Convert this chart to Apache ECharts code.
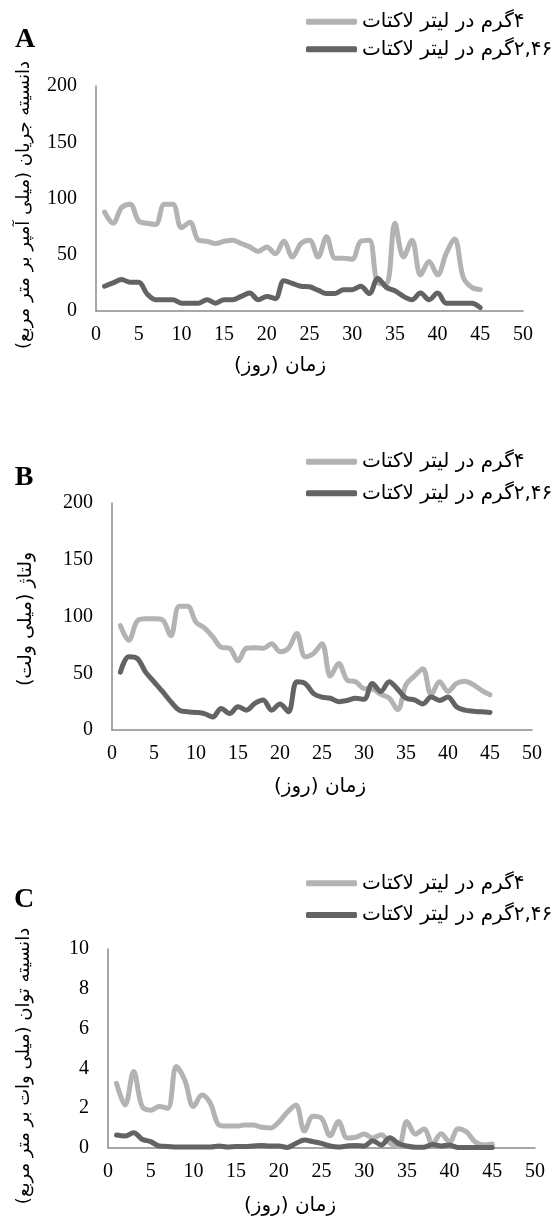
<!DOCTYPE html>
<html>
<head>
<meta charset="utf-8">
<script src="https://cdn.jsdelivr.net/npm/echarts@6/dist/echarts.min.js"></script>
<style>
html,body{margin:0;padding:0;background:#fff;}
#chart{width:559px;height:1216px;}
</style>
</head>
<body>
<div id="chart"></div>
<script>
// ---- data ----
const days = [1,2,3,4,5,6,7,8,9,10,11,12,13,14,15,16,17,18,19,20,21,22,23,24,25,26,27,28,29,30,31,32,33,34,35,36,37,38,39,40,41,42,43,44,45];
const seriesNames = ['\u200F۴گرم در لیتر لاکتات', '\u200F۲,۴۶گرم در لیتر لاکتات'];
// A: current density (mA/m2)
const currentA_4 = [88,78,92,95,80,78,77,95,95,74,79,63,62,60,62,63,60,57,53,57,51,62,48,60,63,48,66,47,47,46,62,63,25,24,78,48,63,32,44,32,51,64,30,21,19];
const currentA_246 = [22,25,28,25.5,25.5,15,10,10,10,7,7,7,10,7,10,10,13,16,10,13,11,27,24.5,22,21.5,18.5,15.5,15.5,19,19,22,15.5,29,21,18,13,10,16,10,16,7,7,7,7,3];
// B: voltage (mV)
const voltageB_4 = [92,79,96,98,98,97,83,109,109,95,90,82,73,72,61,72,72.5,72,76,69,72,85,64.5,67.5,76,47.5,58.5,44,42.5,36.5,36,31.5,28,18,40,47.5,54,31,42.5,34,41,43,40,35,31];
const voltageB_246 = [51,64.5,63,51,42.5,34,25,17.5,16,15.5,14.5,11.5,19,14.5,20.5,17.5,23.5,26.5,17.5,23,16,42.5,41,32,29,28,25,26,28,27,41,34,42.5,36,28,26.5,23,29,26,29,20.5,17.5,16.5,16,15.5];
// C: power density (mW/m2)
const powerC_4 = [3.25,2.16,3.84,2.08,1.9,2.08,2.0,4.1,3.4,2.08,2.66,2.24,1.15,1.1,1.1,1.15,1.15,1.04,1.0,1.3,1.8,2.16,0.85,1.6,1.5,0.62,1.33,0.5,0.54,0.7,0.5,0.67,0.25,0.08,1.33,0.7,0.95,0.2,0.72,0.3,0.97,0.8,0.3,0.15,0.2];
const powerC_246 = [0.65,0.6,0.77,0.44,0.32,0.1,0.08,0.05,0.05,0.05,0.05,0.05,0.1,0.05,0.08,0.08,0.1,0.12,0.1,0.1,0.03,0.23,0.4,0.32,0.23,0.1,0.05,0.1,0.13,0.1,0.37,0.15,0.52,0.23,0.1,0.04,0.04,0.18,0.1,0.15,0.02,0.02,0.02,0.02,0.03];
// tick labels / texts
const xTicks = {min:0, max:50, interval:5};
const yTicksAB = {min:0, max:200, interval:50};
const yTicksC = {min:0, max:10, interval:2};
const panelLabels = ['A','B','C'];
const xTitle = '\u200Fزمان (روز)\u200F';
const yTitles = [
  '\u200Fدانسیته جریان (میلی آمپر بر متر مربع)\u200F',
  '\u200Fولتاژ (میلی ولت)\u200F',
  '\u200Fدانسیته توان (میلی وات بر متر مربع)\u200F'
];

// ---- styles ----
const LIGHT = '#b3b3b3', DARK = '#636363', AXIS = '#8a8a8a';
const NUM_FONT = "'Liberation Serif', 'Times New Roman', serif";
const FA_FONT = "'DejaVu Sans', sans-serif";

const grids = [
  {left:96, right:36, top:86, height:225},
  {left:112, right:27, top:503, height:227},
  {left:108, right:24, top:949, height:199}
];
const yRanges = [yTicksAB, yTicksAB, yTicksC];
const dataSets = [[currentA_4, currentA_246],[voltageB_4, voltageB_246],[powerC_4, powerC_246]];
const legendTops = [10.7, 450.7, 872.3];
const legendGaps = [5.6, 9.6, 9.6];

function pairs(vals){ return days.map((d,i)=>[d, vals[i]]); }

const option = {
  animation:false,
  grid: grids.map(g=>Object.assign({outerBoundsMode:'none', containLabel:false}, g)),
  xAxis: grids.map((g,i)=>({
    type:'value', gridIndex:i, min:xTicks.min, max:xTicks.max, interval:xTicks.interval,
    axisLine:{show:true, onZero:false, lineStyle:{color:AXIS, width:1.5}},
    axisTick:{show:false}, splitLine:{show:false},
    axisLabel:{fontFamily:NUM_FONT, fontSize:20, color:'#000', margin:14}
  })),
  yAxis: grids.map((g,i)=>({
    type:'value', gridIndex:i, min:yRanges[i].min, max:yRanges[i].max, interval:yRanges[i].interval,
    axisLine:{show:true, lineStyle:{color:AXIS, width:1.5}},
    axisTick:{show:false}, splitLine:{show:false},
    axisLabel:{fontFamily:NUM_FONT, fontSize:20, color:'#000', margin:19}
  })),
  legend: grids.map((g,i)=>({
    orient:'vertical', left:306, top:legendTops[i], itemGap:legendGaps[i], padding:0,
    itemWidth:51, itemHeight:6, icon:'roundRect',
    data:seriesNames,
    textStyle:{fontFamily:FA_FONT, fontSize:20, color:'#000', lineHeight:22}
  })),
  series: [],
  graphic: []
};

dataSets.forEach((pair, gi)=>{
  pair.forEach((vals, si)=>{
    const c = si===0 ? LIGHT : DARK;
    option.series.push({
      type:'line', name:seriesNames[si], xAxisIndex:gi, yAxisIndex:gi,
      data:pairs(vals), smooth:0.35, showSymbol:false, symbol:'none',
      color:c, itemStyle:{color:c},
      lineStyle:{color:c, width:5, cap:'round', join:'round'},
      z: si===0 ? 2 : 3
    });
  });
});

const letterPos = [[25,40],[24,478],[24,900]];
const xTitlePos = [[280,366],[320,787],[290,1206]];
const yTitlePos = [[24,205],[26,619],[24,1066]];
const yTitleSizes = [18, 19, 18];
panelLabels.forEach((t,i)=>{
  option.graphic.push({type:'text', x:letterPos[i][0], y:letterPos[i][1],
    style:{text:t, font:"bold 28px 'Liberation Serif', serif", fill:'#000', align:'center', verticalAlign:'middle'}});
  option.graphic.push({type:'text', x:xTitlePos[i][0], y:xTitlePos[i][1],
    style:{text:xTitle, font:"20px "+FA_FONT, fill:'#000', align:'center', verticalAlign:'middle'}});
  option.graphic.push({type:'text', x:yTitlePos[i][0], y:yTitlePos[i][1], rotation:Math.PI/2,
    style:{text:yTitles[i], font:yTitleSizes[i]+"px "+FA_FONT, fill:'#000', align:'center', verticalAlign:'middle'}});
});

const chart = echarts.init(document.getElementById('chart'), null, {renderer:'canvas'});
chart.setOption(option);
</script>
</body>
</html>
